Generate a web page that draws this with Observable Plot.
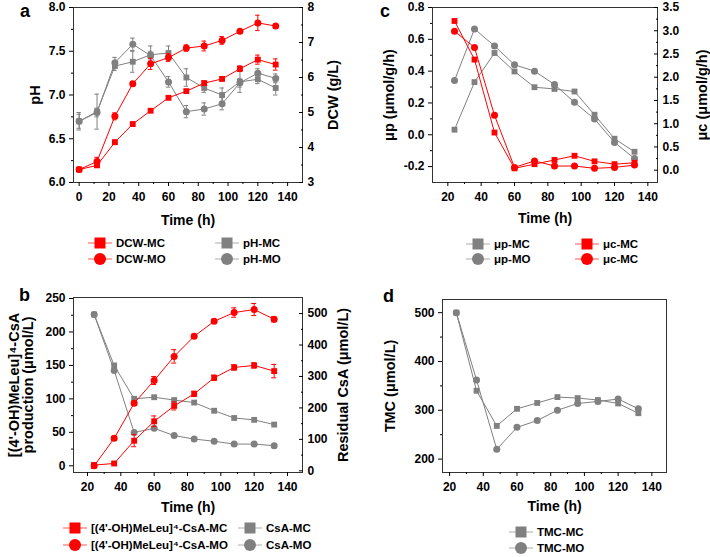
<!DOCTYPE html>
<html><head><meta charset="utf-8">
<script src="https://cdn.jsdelivr.net/npm/d3@7"></script>
<script src="https://cdn.jsdelivr.net/npm/@observablehq/plot@0.6"></script>
<style>
body{margin:0;background:#fff;}
#root{position:relative;width:710px;height:557px;font-family:"Liberation Sans",Arial,sans-serif;font-weight:bold;color:#000;overflow:hidden;}
.panel{position:absolute;}
.panel svg{overflow:visible;}
.letter{position:absolute;font-size:18px;font-weight:bold;line-height:18px;}
.leg{position:absolute;font-size:11.5px;font-weight:bold;display:flex;align-items:center;white-space:nowrap;height:16px;}
.leg svg{flex:none;margin-right:4px;}
</style>
</head><body><div id="root"></div>
<script>
// ---------- Data ----------
const RED = "#ff0000", GRAY = "#808080";
// Panel a
const time_a = [0,12,24,36,48,60,72,84,96,108,120,132];
const dcw_mc = [3.37,3.49,4.15,4.67,5.05,5.42,5.61,5.84,5.96,6.25,6.51,6.37];
const dcw_mc_err = [0.03,0.05,0.06,0.05,0.05,0.05,0.05,0.06,0.06,0.08,0.13,0.16];
const dcw_mo = [3.37,3.60,4.89,5.82,6.39,6.57,6.84,6.90,7.06,7.32,7.56,7.47];
const dcw_mo_err = [0.03,0.12,0.10,0.06,0.16,0.11,0.09,0.14,0.11,0.05,0.22,0.05];
const ph_mc = [6.70,6.81,7.33,7.38,7.46,7.48,7.20,7.08,7.00,7.15,7.18,7.08];
const ph_mc_err = [0.10,0.20,0.05,0.12,0.10,0.08,0.10,0.05,0.08,0.12,0.05,0.08];
const ph_mo = [6.70,6.80,7.37,7.58,7.45,7.15,6.81,6.84,6.90,7.14,7.25,7.19];
const ph_mo_err = [0.08,0.05,0.06,0.07,0.05,0.06,0.07,0.07,0.07,0.05,0.05,0.05];
// Panel b
const time_b = [24,36,48,60,72,84,96,108,120,132];
const prod_mc = [1,3.5,37.5,66.5,89.5,107.5,131.5,147,150,141.5];
const prod_mc_err = [3,2,9,8,6,4,4,4,4,10];
const prod_mo = [0,41,93.5,127.5,163.5,193.5,216,229,233.5,219];
const prod_mo_err = [4,3,3,6,10,3,3,7,9,4];
const csa_mc = [497,335,229,234,225,217,191,168,162,147];
const csa_mo = [497,319,122,135,112,101,94,85,85,80];
// Panel c
const time_c = [24,36,48,60,72,84,96,108,120,132];
const up_mc = [0.032,0.331,0.514,0.398,0.299,0.288,0.272,0.126,-0.025,-0.107];
const up_mo = [0.341,0.665,0.558,0.440,0.400,0.316,0.204,0.099,-0.048,-0.149];
const uc_mc = [3.21,2.38,0.81,0.04,0.13,0.22,0.31,0.19,0.13,0.16];
const uc_mo = [2.99,2.64,1.18,0.06,0.20,0.09,0.09,0.04,0.06,0.11];
// Panel d
const time_d = [24,36,48,60,72,84,96,108,120,132];
const tmc_mc = [500,340,268,303,315,327,325,321,314,294];
const tmc_mo = [500,362,220,265,279,300,314,318,323,303];
// Tick labels
const xTicksA = [0,20,40,60,80,100,120,140], xMinorA = [10,30,50,70,90,110,130];
const xTicksB = [20,40,60,80,100,120,140], xMinorB = [30,50,70,90,110,130];
const phTicks = [6.0,6.5,7.0,7.5,8.0], phMinor = [6.25,6.75,7.25,7.75];
const dcwTicks = [3,4,5,6,7,8], dcwMinor = [3.5,4.5,5.5,6.5,7.5];
const prodTicks = [0,50,100,150,200,250], prodMinor = [25,75,125,175,225];
const csaTicks = [0,100,200,300,400,500], csaMinor = [50,150,250,350,450];
const upTicks = [-0.2,0,0.2,0.4,0.6,0.8], upMinor = [-0.1,0.1,0.3,0.5,0.7];
const ucTicks = [0,0.5,1,1.5,2,2.5,3,3.5], ucMinor = [0.25,0.75,1.25,1.75,2.25,2.75,3.25];
const tmcTicks = [200,300,400,500], tmcMinor = [250,350,450];
// Legend labels
const legA = ["DCW-MC","DCW-MO","pH-MC","pH-MO"];
const legB = ["[(4'-OH)MeLeu]⁴-CsA-MC","[(4'-OH)MeLeu]⁴-CsA-MO","CsA-MC","CsA-MO"];
const legC = ["μp-MC","μp-MO","μc-MC","μc-MC"];
const legD = ["TMC-MC","TMC-MO"];

// ---------- Helpers ----------
const root = document.getElementById("root");
const ident = v => v;
function rows(xs, ys, errs, map = ident) {
  return xs.map((x, i) => ({x, y: map(ys[i]),
    lo: errs ? map(ys[i] - errs[i]) : null, hi: errs ? map(ys[i] + errs[i]) : null}));
}
function seriesMarks(data, color, symbol, cap) {
  const m = [];
  if (data[0].lo != null) {
    m.push(Plot.ruleX(data, {x: "x", y1: "lo", y2: "hi", stroke: color, strokeWidth: 1}));
    m.push(Plot.ruleY(data, {y: "lo", x1: d => d.x - cap, x2: d => d.x + cap, stroke: color, strokeWidth: 1}));
    m.push(Plot.ruleY(data, {y: "hi", x1: d => d.x - cap, x2: d => d.x + cap, stroke: color, strokeWidth: 1}));
  }
  m.push(Plot.line(data, {x: "x", y: "y", stroke: color, strokeWidth: 1}));
  m.push(Plot.dot(data, {x: "x", y: "y", symbol, fill: color, stroke: "none", r: symbol === "square" ? 3.3 : 3.5}));
  return m;
}
const f1 = d => (Math.abs(d) < 1e-9 ? 0 : d).toFixed(1);
const f0 = d => String(Math.round(d));
function axesMarks(c) {
  const m = [
    Plot.frame({stroke: "#333", strokeWidth: 1}),
    Plot.axisX({ticks: c.xTicks, tickSize: 4, tickPadding: 6, tickFormat: f0, label: null}),
    Plot.axisX({ticks: [], tickSize: 0, fontSize: 14, label: "Time (h)", labelAnchor: "center",
      labelOffset: c.xLabelOffset, labelArrow: "none"}),
    Plot.axisX({ticks: c.xMinor, tickSize: 2, text: null, label: null}),
    Plot.axisY({ticks: c.yTicks, tickSize: 4, tickPadding: 4, tickFormat: c.yFormat, label: null}),
    Plot.axisY({ticks: [], tickSize: 0, fontSize: 14.5, label: c.yLabel, labelAnchor: "center",
      labelOffset: c.yLabelOffset, labelArrow: "none"}),
    Plot.axisY({ticks: c.yMinor, tickSize: 2, text: null, label: null})
  ];
  if (c.rMap) {
    const mp = c.rMap;
    m.push(Plot.axisY({anchor: "right", ticks: c.rTicks.map(mp), tickSize: 0, tickPadding: 5,
      tickFormat: d => c.rFormat(mp.invert(d)), label: null}));
    m.push(Plot.axisY({anchor: "right", ticks: [], tickSize: 0, fontSize: 14.5, label: c.rLabel,
      labelAnchor: "center", labelOffset: c.rLabelOffset, labelArrow: "none"}));
    m.push(Plot.axisY({anchor: "right", ticks: c.rTicks.map(mp), tickSize: 4, dx: -4, text: null, label: null}));
    m.push(Plot.axisY({anchor: "right", ticks: c.rMinor.map(mp), tickSize: 2, dx: -2, text: null, label: null}));
  }
  return m;
}
function makePanel(c) {
  const svg = Plot.plot({
    width: c.width, height: c.height,
    marginLeft: c.ml, marginRight: c.mr, marginTop: c.mt, marginBottom: c.mb,
    x: {domain: c.xDomain},
    y: {domain: c.yDomain},
    style: {fontFamily: '"Liberation Sans", Arial, sans-serif', fontSize: "12px", fontWeight: "bold",
      color: "#000", background: "transparent", overflow: "visible"},
    marks: [...axesMarks(c), ...c.marks]
  });
  const div = document.createElement("div");
  div.className = "panel";
  div.style.left = c.left + "px"; div.style.top = c.top + "px";
  div.appendChild(svg);
  root.appendChild(div);
}
function letter(t, x, baseline) {
  const d = document.createElement("div");
  d.className = "letter"; d.textContent = t;
  d.style.left = x + "px"; d.style.top = (baseline - 15) + "px";
  root.appendChild(d);
}
function legendItem(cx, cy, color, symbol, label) {
  const d = document.createElement("div");
  d.className = "leg";
  d.style.left = (cx - 12) + "px"; d.style.top = (cy - 8) + "px";
  const mk = symbol === "square"
    ? `<rect x="6.5" y="2.5" width="11" height="11" fill="${color}"/>`
    : `<circle cx="12" cy="8" r="6" fill="${color}"/>`;
  d.innerHTML = `<svg width="24" height="16"><line x1="0" x2="24" y1="8" y2="8" stroke="${color}" stroke-opacity="0.55" stroke-width="1.2"/>${mk}</svg>`;
  const s = document.createElement("span"); s.textContent = label; d.appendChild(s);
  root.appendChild(d);
}

// ---------- Panel a ----------
const mapA = d3.scaleLinear([3, 8], [6, 8]);
makePanel({
  left: 0, top: 0, width: 355, height: 232, ml: 73, mr: 53, mt: 7, mb: 50,
  xDomain: [-3.8, 150], yDomain: [6, 8],
  xTicks: xTicksA, xMinor: xMinorA, xLabelOffset: 42,
  yTicks: phTicks, yMinor: phMinor, yFormat: f1, yLabel: "pH", yLabelOffset: 44,
  rMap: mapA, rTicks: dcwTicks, rMinor: dcwMinor, rFormat: f0, rLabel: "DCW (g/L)", rLabelOffset: 35,
  marks: [
    ...seriesMarks(rows(time_a, ph_mc, ph_mc_err), GRAY, "square", 1.5),
    ...seriesMarks(rows(time_a, ph_mo, ph_mo_err), GRAY, "circle", 1.5),
    ...seriesMarks(rows(time_a, dcw_mc, dcw_mc_err, mapA), RED, "square", 1.5),
    ...seriesMarks(rows(time_a, dcw_mo, dcw_mo_err, mapA), RED, "circle", 1.5)
  ]
});
// ---------- Panel c ----------
const mapC = d3.scaleLinear([0, 3.5], [-0.2227, 0.8]);
makePanel({
  left: 355, top: 0, width: 355, height: 232, ml: 77, mr: 53, mt: 7, mb: 50,
  xDomain: [10.8, 145.8], yDomain: [-0.3, 0.8],
  xTicks: xTicksB, xMinor: xMinorB, xLabelOffset: 40,
  yTicks: upTicks, yMinor: upMinor, yFormat: f1, yLabel: "μp (μmol/g/h)", yLabelOffset: 49,
  rMap: mapC, rTicks: ucTicks, rMinor: ucMinor, rFormat: f1, rLabel: "μc (μmol/g/h)", rLabelOffset: 49,
  marks: [
    ...seriesMarks(rows(time_c, up_mc), GRAY, "square"),
    ...seriesMarks(rows(time_c, up_mo), GRAY, "circle"),
    ...seriesMarks(rows(time_c, uc_mc, null, mapC), RED, "square"),
    ...seriesMarks(rows(time_c, uc_mo, null, mapC), RED, "circle")
  ]
});
// ---------- Panel b ----------
const mapB = d3.scaleLinear([0, 500], [-7.5, 227.5]);
makePanel({
  left: 0, top: 280, width: 355, height: 242, ml: 73, mr: 53, mt: 17, mb: 50,
  xDomain: [11.6, 149], yDomain: [-10, 251.5],
  xTicks: xTicksB, xMinor: xMinorB, xLabelOffset: 39,
  yTicks: prodTicks, yMinor: prodMinor, yFormat: f0,
  yLabel: "[(4'-OH)MeLeu]⁴-CsA\nproduction (μmol/L)", yLabelOffset: 65,
  rMap: mapB, rTicks: csaTicks, rMinor: csaMinor, rFormat: f0, rLabel: "Residual CsA (μmol/L)", rLabelOffset: 45,
  marks: [
    ...seriesMarks(rows(time_b, csa_mc, null, mapB), GRAY, "square"),
    ...seriesMarks(rows(time_b, csa_mo, null, mapB), GRAY, "circle"),
    ...seriesMarks(rows(time_b, prod_mc, prod_mc_err), RED, "square", 1.5),
    ...seriesMarks(rows(time_b, prod_mo, prod_mo_err), RED, "circle", 1.5)
  ]
});
// ---------- Panel d ----------
makePanel({
  left: 355, top: 280, width: 355, height: 242, ml: 87, mr: 44, mt: 19, mb: 50,
  xDomain: [15.8, 148.7], yDomain: [172.5, 527],
  xTicks: xTicksB, xMinor: xMinorB, xLabelOffset: 38,
  yTicks: tmcTicks, yMinor: tmcMinor, yFormat: f0, yLabel: "TMC (μmol/L)", yLabelOffset: 58,
  marks: [
    ...seriesMarks(rows(time_d, tmc_mc), GRAY, "square"),
    ...seriesMarks(rows(time_d, tmc_mo), GRAY, "circle")
  ]
});

// ---------- Letters & legends ----------
letter("a", 20, 17); letter("c", 380, 17); letter("b", 19, 301); letter("d", 383, 302);
legendItem(100, 243, RED, "square", legA[0]);
legendItem(100, 259, RED, "circle", legA[1]);
legendItem(227, 243, GRAY, "square", legA[2]);
legendItem(227, 259, GRAY, "circle", legA[3]);
legendItem(478, 244, GRAY, "square", legC[0]);
legendItem(478, 259, GRAY, "circle", legC[1]);
legendItem(587, 244, RED, "square", legC[2]);
legendItem(587, 259, RED, "circle", legC[3]);
legendItem(75, 528, RED, "square", legB[0]);
legendItem(75, 545, RED, "circle", legB[1]);
legendItem(250, 528, GRAY, "square", legB[2]);
legendItem(250, 545, GRAY, "circle", legB[3]);
legendItem(521, 532, GRAY, "square", legD[0]);
legendItem(521, 548, GRAY, "circle", legD[1]);
</script></body></html>
